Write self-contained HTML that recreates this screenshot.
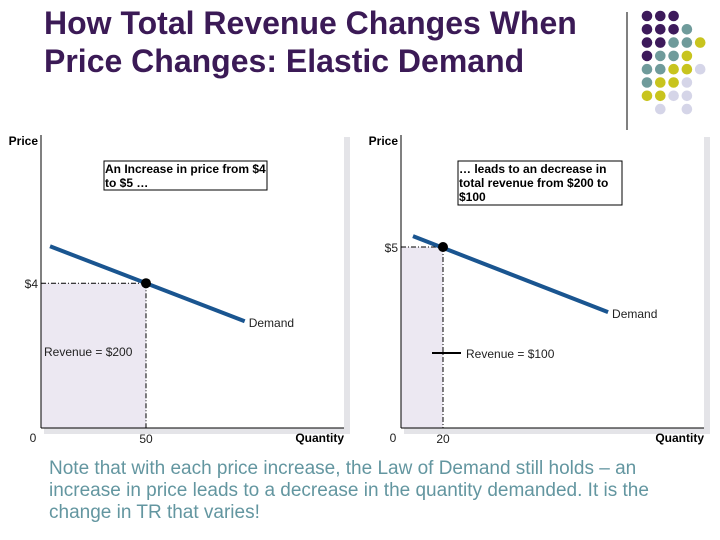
<!DOCTYPE html>
<html><head><meta charset="utf-8"><style>
body{margin:0;background:#fff;width:720px;height:540px;overflow:hidden;font-family:"Liberation Sans",sans-serif}
svg{display:block}
</style></head><body>
<svg width="720" height="540" viewBox="0 0 720 540">
<text x="44" y="34" font-size="32" font-weight="bold" fill="#3b1a56">How Total Revenue Changes When</text>
<text x="44" y="72" font-size="32" font-weight="bold" fill="#3b1a56">Price Changes: Elastic Demand</text>
<line x1="627" y1="12" x2="627" y2="130" stroke="#000" stroke-width="1"/>
<g id="dots"></g>
<g id="left"></g>
<g id="right"></g>
<text font-size="19" fill="#6396a0">
<tspan x="49" y="474">Note that with each price increase, the Law of Demand still holds – an</tspan>
<tspan x="49" y="496">increase in price leads to a decrease in the quantity demanded.  It is the</tspan>
<tspan x="49" y="518">change in TR that varies!</tspan></text>
</svg>
<script>
// chart data
const leftDemandQ=[4.3,97];
const leftDemandP=[5.02,2.95];
const leftPoint=[50,4];
const rightDemandQ=[5.7,98.6];
const rightDemandP=[5.3,3.2];
const rightPoint=[20,5];
const leftLabels=["$4","50","Revenue = $200"];
const rightLabels=["$5","20","Revenue = $100"];

const NS="http://www.w3.org/2000/svg";
function mk(p,t,a,txt){const e=document.createElementNS(NS,t);for(const k in a)e.setAttribute(k,a[k]);if(txt!=null)e.textContent=txt;p.appendChild(e);return e;}

// decorative dots
const dotRows=["PPP","PPPT","PPTTY","PTTY","TTYYL","TYYL","YYLL","_L_L"];
const dc={P:"#3d1a5b",T:"#6f9b9b",Y:"#c8c41e",L:"#d5d5e8"};
const dg=document.getElementById('dots');
dotRows.forEach((r,i)=>{[...r].forEach((c,j)=>{if(c==='_')return;
 const d=mk(dg,'circle',{cx:647+j*13.3,cy:16+i*13.3,r:5.3,fill:dc[c]});
 
 });});

function chart(g,ox,dq,dp,pt,labels,box,rev){
 const x=q=>ox+q*2.1, y=p=>428-p*36.2;
 const sh=mk(g,'rect',{x:ox+303,y:137,width:6,height:297,fill:"#e4e4e8"});
 
 mk(g,'rect',{x:ox+3,y:428,width:306,height:6,fill:"#e4e4e8"});
 const a=mk(g,'rect',{x:ox,y:y(pt[1]),width:x(pt[0])-ox,height:428-y(pt[1]),fill:"#ece8f2"});
 
 mk(g,'line',{x1:ox,y1:135,x2:ox,y2:428,stroke:"#000","stroke-width":1});
 mk(g,'line',{x1:ox,y1:428,x2:ox+303,y2:428,stroke:"#000","stroke-width":1});
 mk(g,'line',{x1:ox,y1:y(pt[1]),x2:x(pt[0]),y2:y(pt[1]),stroke:"#000","stroke-width":1,"stroke-dasharray":"5,2,1,2"});
 mk(g,'line',{x1:x(pt[0]),y1:y(pt[1]),x2:x(pt[0]),y2:428,stroke:"#000","stroke-width":1,"stroke-dasharray":"5,2,1,2"});
 const l=mk(g,'line',{x1:x(dq[0]),y1:y(dp[0]),x2:x(dq[1]),y2:y(dp[1]),stroke:"#1a5590","stroke-width":4});
 
 const c=mk(g,'circle',{cx:x(pt[0]),cy:y(pt[1]),r:5,fill:"#000"});
 
 mk(g,'text',{x:ox-3,y:145,"font-size":12,"font-weight":"bold","text-anchor":"end"},"Price");
 mk(g,'text',{x:ox+303,y:442,"font-size":12,"font-weight":"bold","text-anchor":"end"},"Quantity");
 mk(g,'text',{x:ox-8,y:442,"font-size":12,"text-anchor":"middle",fill:"#222"},"0");
 mk(g,'text',{x:ox-3,y:y(pt[1])+5,"font-size":12,"text-anchor":"end",fill:"#222"},labels[0]);
 mk(g,'text',{x:x(pt[0]),y:443,"font-size":12,"text-anchor":"middle",fill:"#222"},labels[1]);
 mk(g,'text',{x:x(dq[1])+4,y:y(dp[1])+6,"font-size":12,fill:"#222"},"Demand");
 mk(g,'text',{x:rev[0],y:rev[1],"font-size":12,fill:"#222"},labels[2]);
 const b=mk(g,'rect',{x:box[0],y:box[1],width:box[2],height:box[3],fill:"#fff",stroke:"#000","stroke-width":1});
 
 box[4].forEach((t,i)=>mk(g,'text',{x:box[0]+1,y:box[1]+12+i*14,"font-size":12,"font-weight":"bold"},t));
}
chart(document.getElementById('left'),41,leftDemandQ,leftDemandP,leftPoint,leftLabels,
 [104,161,163,29,["An Increase in price from $4"," to $5 …"]],[44,356]);
chart(document.getElementById('right'),401,rightDemandQ,rightDemandP,rightPoint,rightLabels,
 [458,161,164,44,["… leads to an decrease in","total revenue from $200 to","$100"]],[466,358]);
mk(document.getElementById('right'),'line',{x1:432,y1:353,x2:461,y2:353,stroke:"#000","stroke-width":2});
</script>
</body></html>
